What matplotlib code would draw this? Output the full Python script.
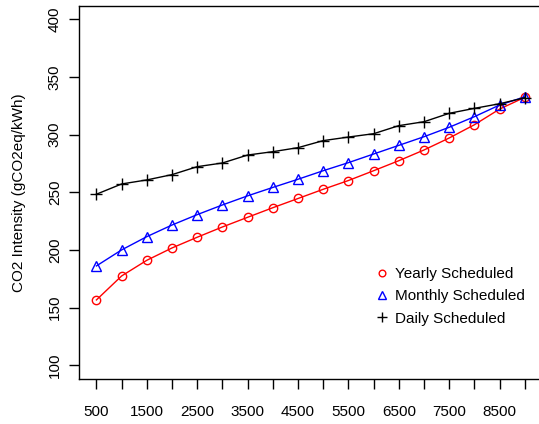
import numpy as np
import matplotlib
matplotlib.use("Agg")
import matplotlib.pyplot as plt

plt.rcParams['font.family'] = ['Liberation Sans', 'DejaVu Sans']

# data
sizes = [500, 1000, 1500, 2000, 2500, 3000, 3500, 4000, 4500,
         5000, 5500, 6000, 6500, 7000, 7500, 8000, 8500, 9000]
yearly = [156.6, 177.4, 191, 201.7, 211, 219.9, 228.3, 236.6, 244.6,
          252.6, 260.2, 268.7, 277.4, 286.7, 297.1, 308.6, 322.2, 332.4]
monthly = [186.1, 200, 211.5, 221.6, 230.6, 239, 246.9, 254.2, 261.3,
           268.7, 275.7, 283.2, 290.7, 298.2, 306.4, 315.6, 325.7, 332.8]
daily = [248.3, 257.2, 260.7, 265.3, 272.2, 275.4, 282.3, 285.2, 288.7,
         294.8, 297.9, 300.8, 307.8, 311.2, 318.5, 322.8, 326.8, 332]
y_ticks = [100, 150, 200, 250, 300, 350, 400]

fig = plt.figure(figsize=(5.39, 4.24), dpi=100)
# the right edge of the box sits just past the figure edge, as in the original
ax = fig.add_axes([0.1471, 0.1061, 0.8585, 0.8809])

ax.plot(sizes, yearly, color='red', lw=1, marker='o', ms=6, mfc='none',
        mec='red', mew=1, label='Yearly Scheduled')
ax.plot(sizes, monthly, color='blue', lw=1, marker='^', ms=7, mfc='none',
        mec='blue', mew=1, label='Monthly Scheduled')
ax.plot(sizes, daily, color='black', lw=1, marker='+', ms=9, mew=1,
        label='Daily Scheduled')

ax.set_xlim(160, 9340)
ax.set_ylim(88, 412)

ax.set_xticks(sizes)
ax.set_xticklabels([str(s) if i % 2 == 0 else '' for i, s in enumerate(sizes)])
ax.set_yticks(y_ticks)
ax.set_yticklabels([str(v) for v in y_ticks], rotation=90, va='center')

ax.tick_params(direction='out', length=7.5, width=1, labelsize=11, pad=5)
ax.tick_params(axis='x', pad=11)
for s in ax.spines.values():
    s.set_linewidth(1)

ax.set_ylabel('CO2 Intensity (gCO2eq/kWh)', fontsize=11, labelpad=16)

ax.legend(loc='center left', bbox_to_anchor=(0.637, 0.2215), frameon=False,
          fontsize=11, handlelength=1.0, handletextpad=0.37,
          labelspacing=0.55, borderaxespad=0, borderpad=0, markerscale=0.8)
# legend shows marker only (R style)
leg = ax.get_legend()
for h in leg.legend_handles:
    h.set_linestyle('none')

fig.savefig('out.png', dpi=100)
